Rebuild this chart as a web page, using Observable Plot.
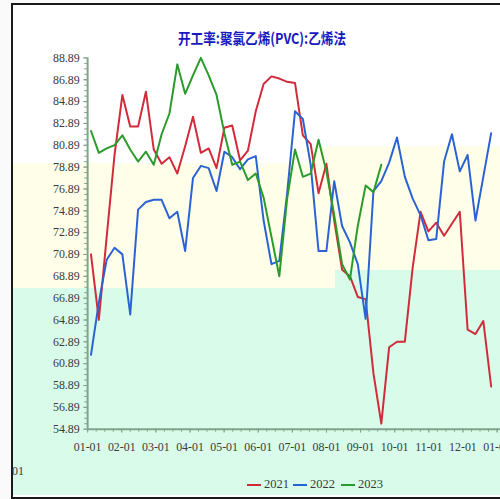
<!DOCTYPE html>
<html><head><meta charset="utf-8">
<script src="https://cdn.jsdelivr.net/npm/d3@7"></script>
<script src="https://cdn.jsdelivr.net/npm/@observablehq/plot@0.6"></script>
<style>
html,body{margin:0;padding:0;width:500px;height:499px;overflow:hidden;background:#fafafa;}
.bg{position:absolute;}
#frame{position:absolute;left:11px;top:3px;width:492px;height:492px;border:2px solid #1a1a1a;border-right:none;background:#fff;}
#chart{position:absolute;left:0;top:0;}
#title{position:absolute;left:262px;top:28px;white-space:nowrap;font-family:"Noto Sans CJK SC",sans-serif;font-size:15px;line-height:20px;font-weight:bold;color:#1818c0;transform:translateX(-50%) scaleX(0.84);}
#legend{position:absolute;left:0;top:476px;font-family:"Liberation Serif",serif;font-size:12.5px;color:#3a3a3a;}
.sw{position:absolute;height:2px;top:8px;width:14px;}
.lt{position:absolute;top:0;line-height:16px;}
#stub{position:absolute;left:12px;top:464px;font-family:"Liberation Serif",serif;font-size:12px;color:#3a3a3a;}
</style></head>
<body>
<div id="frame"></div>
<div class="bg" style="left:13px;top:163px;width:295px;height:125px;background:#fefee9"></div>
<div class="bg" style="left:308px;top:146px;width:192px;height:124px;background:#fefee9"></div>
<div class="bg" style="left:308px;top:270px;width:27px;height:18px;background:#fefee9"></div>
<div class="bg" style="left:13px;top:288px;width:487px;height:207px;background:#d8fbea"></div>
<div class="bg" style="left:335px;top:270px;width:165px;height:18px;background:#d8fbea"></div>
<div id="stub">01</div>
<div id="chart"></div>
<div id="title">开工率:聚氯乙烯(PVC):乙烯法</div>
<div id="legend"></div>
<script>
// ---- data ----
const seriesNames = ["2021", "2022", "2023"];
const seriesColors = ["#d12a3a", "#2a62d4", "#2a9a2a"];
const monthLabels = ["01-01","02-01","03-01","04-01","05-01","06-01","07-01","08-01","09-01","10-01","11-01","12-01","01-01"];
const yTickLabels = ["54.89","56.89","58.89","60.89","62.89","64.89","66.89","68.89","70.89","72.89","74.89","76.89","78.89","80.89","82.89","84.89","86.89","88.89"];
const red2021 = [70.9,64.9,72.5,80.0,85.5,82.6,82.6,85.8,80.5,79.2,79.8,78.3,80.8,83.5,80.2,80.6,78.8,82.5,82.7,79.5,80.4,84.0,86.5,87.2,87.0,86.7,86.6,81.8,81.0,76.5,79.2,74.0,69.5,68.9,67.0,66.8,60.0,55.4,62.4,62.9,62.9,69.7,74.8,73.0,73.8,72.6,73.7,74.8,64.0,63.6,64.8,58.8];
const blue2022 = [61.7,66.5,70.4,71.5,70.9,65.4,75.0,75.7,75.9,75.9,74.2,74.8,71.2,77.9,79.0,78.8,76.7,80.3,79.8,78.7,79.6,79.9,74.0,70.0,70.3,76.5,84.0,83.3,79.1,71.2,71.2,77.6,73.5,72.0,70.0,65.0,76.7,77.6,79.3,81.6,78.0,76.0,74.5,72.2,72.3,79.4,81.9,78.5,80.0,74.0,78.0,82.0];
const green2023 = [82.2,80.2,80.6,80.9,81.8,80.5,79.4,80.3,79.1,81.9,83.8,88.3,85.6,87.3,88.9,87.3,85.5,82.0,79.1,79.4,77.7,78.3,76.1,72.5,68.9,76.0,80.5,78.0,78.3,81.4,78.5,74.5,70.0,68.6,73.5,77.2,76.6,79.1];

// weekly observations placed on a month-of-year axis (0 = Jan 1)
const DAYS_PER_MONTH = 30.44;
const rows = [];
[red2021, blue2022, green2023].forEach((vals, s) => {
  vals.forEach((v, i) => rows.push({series: seriesNames[s], m: (7 * i + 3) / DAYS_PER_MONTH, v}));
});
const yTickVals = yTickLabels.map(Number);
const yMinor = d3.range(54.89, 88.9, 0.5);
const xMonths = monthLabels.map((d, i) => i);
const xMinor = d3.range(0, 12.01, 0.25);
const axisColor = "#7fa38b";
const font = "Liberation Serif, serif";

const chart = Plot.plot({
  width: 505, height: 499,
  marginLeft: 88, marginRight: 0, marginTop: 58, marginBottom: 66,
  x: {domain: [0, 12.1], axis: null, label: null},
  y: {domain: [54.89, 88.89], axis: null, label: null},
  color: {domain: seriesNames, range: seriesColors},
  style: {background: "transparent", overflow: "visible", fontFamily: font},
  marks: [
    Plot.axisY(yMinor, {tickSize: 3, tickFormat: () => "", stroke: axisColor, label: null}),
    Plot.axisY(yTickVals, {tickSize: 4, tickPadding: 4, tickFormat: d => d.toFixed(2), fontSize: 12, fill: "#3a3a3a", stroke: axisColor, label: null}),
    Plot.axisX(xMinor, {tickSize: 3, tickFormat: () => "", stroke: axisColor, label: null}),
    Plot.axisX(xMonths, {tickSize: 4, tickPadding: 10, tickFormat: d => monthLabels[Math.round(d)], fontSize: 12, fill: "#3a3a3a", stroke: axisColor, label: null}),
    Plot.ruleX([0], {stroke: axisColor, strokeWidth: 2}),
    Plot.ruleY([54.89], {stroke: axisColor, strokeWidth: 2}),
    Plot.line(rows, {x: "m", y: "v", z: "series", stroke: "series", strokeWidth: 2, curve: "linear"})
  ]
});
document.getElementById("chart").appendChild(chart);

// legend
const legend = document.getElementById("legend");
const legendX = [247, 293, 341];
seriesNames.forEach((name, i) => {
  const sw = document.createElement("div");
  sw.className = "sw";
  sw.style.left = legendX[i] + "px";
  sw.style.background = seriesColors[i];
  legend.appendChild(sw);
  const t = document.createElement("div");
  t.className = "lt";
  t.style.left = (legendX[i] + 17) + "px";
  t.textContent = name;
  legend.appendChild(t);
});
</script>
</body></html>
